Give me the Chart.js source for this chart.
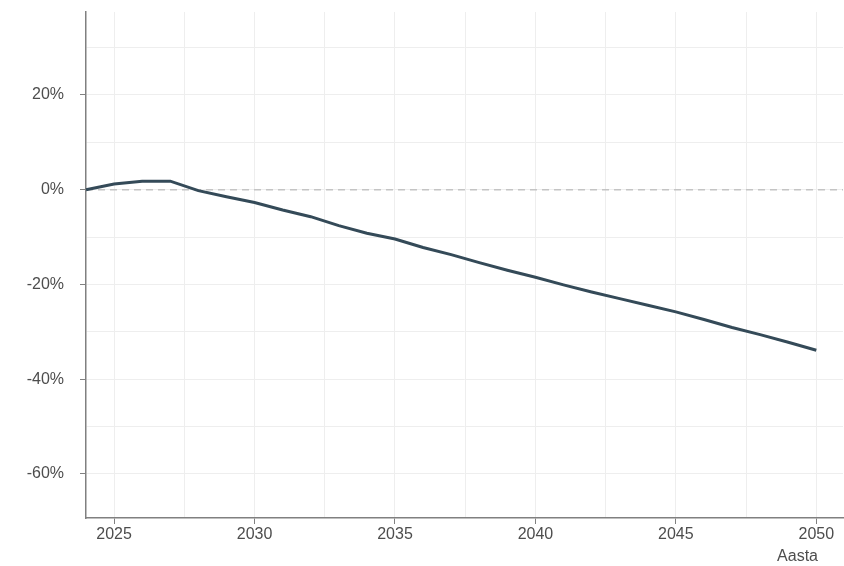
<!DOCTYPE html>
<html>
<head>
<meta charset="utf-8">
<script src="https://cdn.jsdelivr.net/npm/chart.js@4"></script>
<style>
  html, body { margin: 0; padding: 0; background: #ffffff; }
  #wrap { width: 844px; height: 566px; }
</style>
</head>
<body>
<div id="wrap"><canvas id="chart" width="844" height="566"></canvas></div>
<script>
// Years on the x axis
const years = [2024, 2025, 2026, 2027, 2028, 2029, 2030, 2031, 2032, 2033, 2034, 2035, 2036, 2037,
               2038, 2039, 2040, 2041, 2042, 2043, 2044, 2045, 2046, 2047, 2048, 2049, 2050];
// Change relative to 2024, in percent
const change = [0, 1.2, 1.8, 1.8, -0.2, -1.5, -2.7, -4.3, -5.7, -7.6, -9.2, -10.4, -12.2, -13.7,
                -15.4, -17.0, -18.5, -20.1, -21.6, -23.0, -24.4, -25.8, -27.4, -29.1, -30.6, -32.2, -33.9];
const xTitle = "Aasta";

const textColor = "#4d4d4d";
const font = { family: "'Liberation Sans', Arial, sans-serif", size: 16 };

// Dashed reference line at 0 %
const zeroLine = {
  id: "zeroLine",
  beforeDatasetsDraw(chart) {
    const { ctx, chartArea, scales } = chart;
    const y = scales.y.getPixelForValue(0);
    ctx.save();
    ctx.strokeStyle = "#c4c4c4";
    ctx.lineWidth = 1.5;
    ctx.setLineDash([7, 5]);
    ctx.beginPath();
    ctx.moveTo(chartArea.left, y);
    ctx.lineTo(chartArea.right, y);
    ctx.stroke();
    ctx.restore();
  }
};

// Axis title under the last tick label
const axisTitle = {
  id: "axisTitle",
  afterDraw(chart) {
    const { ctx, chartArea } = chart;
    ctx.save();
    ctx.fillStyle = textColor;
    ctx.font = font.size + "px " + font.family;
    ctx.textAlign = "right";
    ctx.textBaseline = "middle";
    ctx.fillText(xTitle, chartArea.right - 25, 557);
    ctx.restore();
  }
};

new Chart(document.getElementById("chart"), {
  type: "line",
  data: {
    datasets: [{
      data: years.map((y, i) => ({ x: y, y: change[i] })),
      borderColor: "#344a58",
      borderWidth: 3,
      pointRadius: 0,
      tension: 0,
      clip: false
    }]
  },
  options: {
    responsive: false,
    animation: false,
    layout: { padding: { top: 12, right: 1, bottom: 0, left: 0 } },
    plugins: { legend: { display: false }, tooltip: { enabled: false } },
    scales: {
      x: {
        type: "linear",
        min: 2024,
        max: 2050.95,
        afterFit(scale) { scale.height = 48; scale.paddingLeft = 0; scale.paddingRight = 0; },
        border: { color: "#808080", width: 1.5 },
        grid: {
          color: "#eeeeee",
          lineWidth: 1,
          tickLength: 6,
          tickColor: (c) => (c.tick && c.tick.value % 5 === 0 ? "#808080" : "rgba(0,0,0,0)")
        },
        ticks: {
          stepSize: 2.5,
          includeBounds: false,
          maxRotation: 0,
          autoSkip: false,
          padding: 1,
          color: textColor,
          font: font,
          callback: (v) => (v % 5 === 0 ? String(v) : "")
        }
      },
      y: {
        min: -69.3,
        max: 37.5,
        afterFit(scale) { scale.width = 86; scale.paddingTop = 0; scale.paddingBottom = 0; },
        border: { color: "#808080", width: 1.5 },
        grid: {
          color: "#eeeeee",
          lineWidth: 1,
          tickLength: 6,
          tickColor: (c) => (c.tick && c.tick.value % 20 === 0 ? "#808080" : "rgba(0,0,0,0)")
        },
        ticks: {
          stepSize: 10,
          includeBounds: false,
          padding: 16,
          color: textColor,
          font: font,
          callback: (v) => (v % 20 === 0 ? v + "%" : "")
        }
      }
    }
  },
  plugins: [zeroLine, axisTitle]
});
</script>
</body>
</html>
